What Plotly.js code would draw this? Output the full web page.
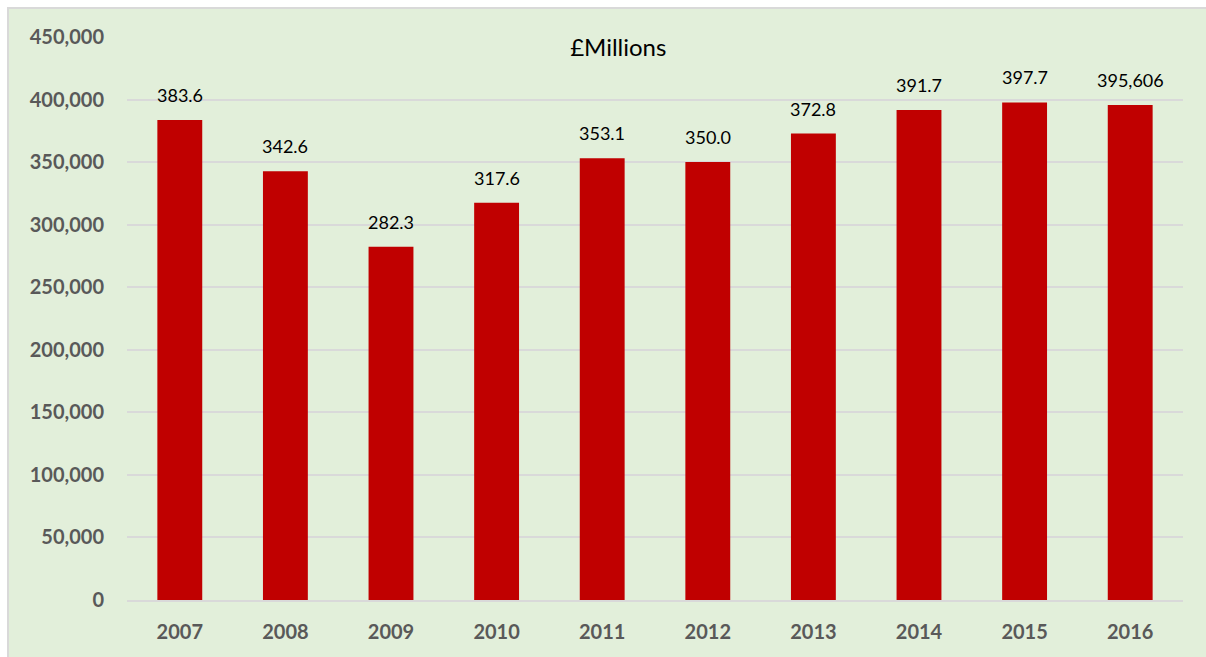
<!DOCTYPE html>
<html>
<head>
<meta charset="utf-8">
<script src="https://cdn.plot.ly/plotly-3.0.1.min.js"></script>
<style>
  html, body { margin: 0; padding: 0; background: #ffffff; }
  #frame { position: absolute; left: 7px; top: 7px; width: 1199px; height: 650px;
           border-left: 2px solid #D9D9D9; border-top: 2px solid #D9D9D9; box-sizing: border-box; }
  #chart { width: 1197px; height: 648px; }
</style>
</head>
<body>
<div id="frame"><div id="chart"></div></div>
<script>
const years = ['2007', '2008', '2009', '2010', '2011', '2012', '2013', '2014', '2015', '2016'];
const values = [383600, 342600, 282300, 317600, 353100, 350000, 372800, 391700, 397700, 395606];
const labels = ['383.6', '342.6', '282.3', '317.6', '353.1', '350.0', '372.8', '391.7', '397.7', '395,606'];
const yTicks = [0, 50000, 100000, 150000, 200000, 250000, 300000, 350000, 400000, 450000];
const yTickText = ['0', '50,000', '100,000', '150,000', '200,000', '250,000', '300,000', '350,000', '400,000', '450,000'];
const chartTitle = '£Millions';

const trace = {
  type: 'bar',
  x: years,
  y: values,
  marker: { color: '#C00000' },
  hoverinfo: 'skip'
};

const annotations = years.map((yr, i) => ({
  x: i, y: values[i], xref: 'x', yref: 'y',
  text: labels[i], showarrow: false,
  yanchor: 'bottom', yshift: 12,
  font: { family: 'Lato, "Open Sans", sans-serif', size: 18, color: '#000000' }
}));

const layout = {
  width: 1197, height: 648,
  paper_bgcolor: '#E2EFDA',
  plot_bgcolor: '#E2EFDA',
  margin: { l: 118, r: 23, t: 28, b: 57 },
  bargap: 0.575,
  showlegend: false,
  title: {
    text: chartTitle,
    x: 0.509, xref: 'container', xanchor: 'center',
    y: 0.94, yref: 'container', yanchor: 'middle',
    font: { family: 'Lato, "Open Sans", sans-serif', size: 24, color: '#000000' }
  },
  xaxis: {
    type: 'category',
    range: [-0.5, years.length - 0.5],
    autorange: false,
    showgrid: false,
    showline: true, linecolor: '#D9D9D9', linewidth: 2,
    ticks: '', ticklabelstandoff: 13,
    tickfont: { family: 'Lato, "Open Sans", sans-serif', size: 20, color: '#595959', weight: 'bold' }
  },
  yaxis: {
    range: [0, 450000],
    autorange: false,
    tickvals: yTicks, ticktext: yTickText,
    showgrid: true, gridcolor: '#D9D9D9', gridwidth: 2,
    zeroline: false, showline: false,
    ticks: '', ticklabelstandoff: 22,
    tickfont: { family: 'Lato, "Open Sans", sans-serif', size: 20, color: '#595959', weight: 'bold' }
  },
  annotations: annotations
};

Plotly.newPlot('chart', [trace], layout, { displayModeBar: false, staticPlot: true });
</script>
</body>
</html>
